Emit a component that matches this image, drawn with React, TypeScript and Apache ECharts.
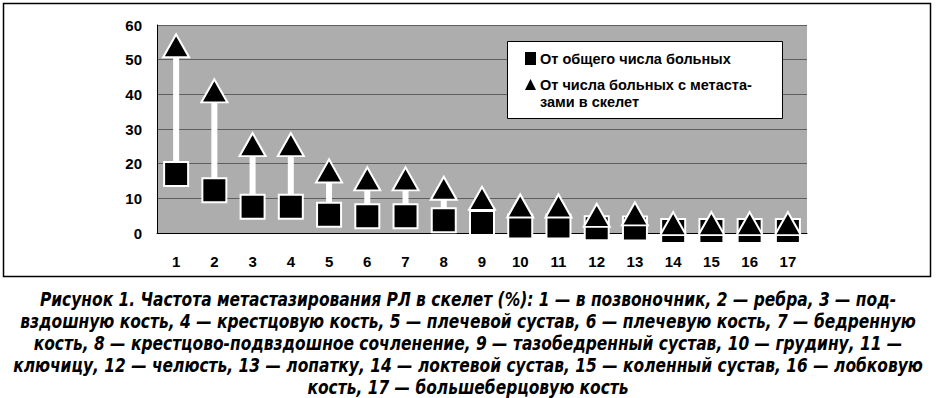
import React, { useEffect, useRef } from "react";
import * as echarts from "echarts";

const categories = ["1", "2", "3", "4", "5", "6", "7", "8", "9", "10", "11", "12", "13", "14", "15", "16", "17"];
const totalPatients = [17, 12.3, 7.6, 7.6, 5.3, 4.8, 4.8, 3.7, 2.9, 1.9, 1.9, 1.4, 1.3, 0.6, 0.6, 0.6, 0.6];
const skeletalPatients = [54, 41, 25.5, 25.5, 17.9, 15.6, 15.6, 12.9, 10, 7.8, 7.8, 5.1, 5.5, 2.7, 2.7, 2.7, 2.7];
const yTicks = { min: 0, max: 60, interval: 10 };

const legendNames = ["От общего числа больных", "От числа больных с метаста-\nзами в скелет"];
const captionLines = [
  "Рисунок 1. Частота метастазирования РЛ в скелет (%): 1 — в позвоночник, 2 — ребра, 3 — под-",
  "вздошную кость, 4 — крестцовую кость, 5 — плечевой сустав, 6 — плечевую кость, 7 — бедренную",
  "кость, 8 — крестцово-подвздошное сочленение, 9 — тазобедренный сустав, 10 — грудину, 11 —",
  "ключицу, 12 — челюсть, 13 — лопатку, 14 — локтевой сустав, 15 — коленный сустав, 16 — лобковую",
  "кость, 17 — большеберцовую кость",
];

const FONT = "'Liberation Sans', Arial, sans-serif";
const CAPTION_FAMILY = "'DejaVu Sans Condensed', 'DejaVu Sans', sans-serif";
const CAPTION_SIZE = 19;
const CAPTION_TARGET_WIDTH = 910;

function captionScale(): number {
  try {
    const c = document.createElement("canvas");
    const ctx = c.getContext("2d");
    if (!ctx) return 0.9;
    ctx.font = `italic bold ${CAPTION_SIZE}px ${CAPTION_FAMILY}`;
    let w = 0;
    for (const l of captionLines) w = Math.max(w, ctx.measureText(l).width);
    return w > 0 ? Math.min(1, CAPTION_TARGET_WIDTH / w) : 0.9;
  } catch {
    return 0.9;
  }
}

export default function App() {
  const ref = useRef<HTMLDivElement>(null);
  useEffect(() => {
    if (!ref.current) return;
    const chart = echarts.init(ref.current, null, { renderer: "svg" });
    const stems = categories.map((_, i) => [i, totalPatients[i], skeletalPatients[i]]);
    const sx = captionScale();
    chart.setOption({
      animation: false,
      backgroundColor: "#ffffff",
      grid: {
        left: 157,
        top: 25,
        right: 129,
        bottom: 165,
        show: true,
        backgroundColor: "#adadad",
        borderWidth: 0,
      },
      xAxis: {
        type: "category",
        data: categories,
        boundaryGap: true,
        axisLine: { show: true, lineStyle: { color: "#000", width: 1 } },
        axisTick: { show: false },
        axisLabel: { color: "#000", fontFamily: FONT, fontWeight: "bold", fontSize: 15, margin: 21 },
        splitLine: { show: false },
      },
      yAxis: {
        type: "value",
        min: yTicks.min,
        max: yTicks.max,
        interval: yTicks.interval,
        axisLine: { show: true, lineStyle: { color: "#000", width: 1 } },
        axisTick: { show: false },
        axisLabel: { color: "#000", fontFamily: FONT, fontWeight: "bold", fontSize: 15, margin: 15 },
        splitLine: { show: true, lineStyle: { color: "#5e5e5e", width: 1 } },
      },
      series: [
        {
          type: "custom",
          name: "stems",
          clip: false,
          z: 2,
          data: stems,
          renderItem: (params: any, api: any) => {
            const p1 = api.coord([api.value(0), api.value(1)]);
            const p2 = api.coord([api.value(0), api.value(2)]);
            return {
              type: "line",
              shape: { x1: p1[0], y1: p1[1], x2: p2[0], y2: p2[1] },
              style: { stroke: "#ffffff", lineWidth: 6 },
            };
          },
        },
        {
          type: "scatter",
          name: legendNames[0],
          data: totalPatients,
          symbol: "rect",
          symbolSize: 24,
          clip: false,
          z: 3,
          itemStyle: { color: "#000", borderColor: "#fff", borderWidth: 2, opacity: 1 },
        },
        {
          type: "scatter",
          name: legendNames[1],
          data: skeletalPatients,
          symbol: "triangle",
          symbolSize: [26, 23],
          clip: false,
          z: 4,
          itemStyle: { color: "#000", borderColor: "#fff", borderWidth: 2, opacity: 1 },
        },
      ],
      graphic: [
        {
          type: "rect",
          z: 0,
          shape: { x: 3.5, y: 3.5, width: 927, height: 273 },
          style: { fill: "none", stroke: "#000", lineWidth: 1.5 },
        },
        {
          type: "rect",
          z: 100,
          shape: { x: 507.5, y: 41.5, width: 275, height: 77 },
          style: { fill: "#fff", stroke: "#000", lineWidth: 1 },
        },
        {
          type: "rect",
          z: 101,
          shape: { x: 525, y: 52, width: 11, height: 13 },
          style: { fill: "#000" },
        },
        {
          type: "text",
          z: 101,
          x: 540,
          y: 58.5,
          style: { text: legendNames[0], font: `bold 14.5px ${FONT}`, fill: "#000", verticalAlign: "middle" },
        },
        {
          type: "polygon",
          z: 101,
          shape: { points: [[530.5, 79], [525, 90], [536, 90]] },
          style: { fill: "#000" },
        },
        {
          type: "text",
          z: 101,
          x: 540,
          y: 76,
          style: { text: legendNames[1], font: `bold 14.5px ${FONT}`, fill: "#000", lineHeight: 17, verticalAlign: "top" },
        },
        {
          type: "text",
          x: 468,
          y: 288,
          scaleX: sx,
          z: 100,
          style: {
            text: captionLines.join("\n"),
            fontFamily: CAPTION_FAMILY,
            fontStyle: "italic",
            fontWeight: "bold",
            fontSize: CAPTION_SIZE,
            lineHeight: 22,
            fill: "#000",
            align: "center",
            verticalAlign: "top",
          },
        },
      ],
    });
    return () => chart.dispose();
  }, []);
  return <div ref={ref} style={{ position: "fixed", left: 0, top: 0, width: 936, height: 398 }} />;
}
